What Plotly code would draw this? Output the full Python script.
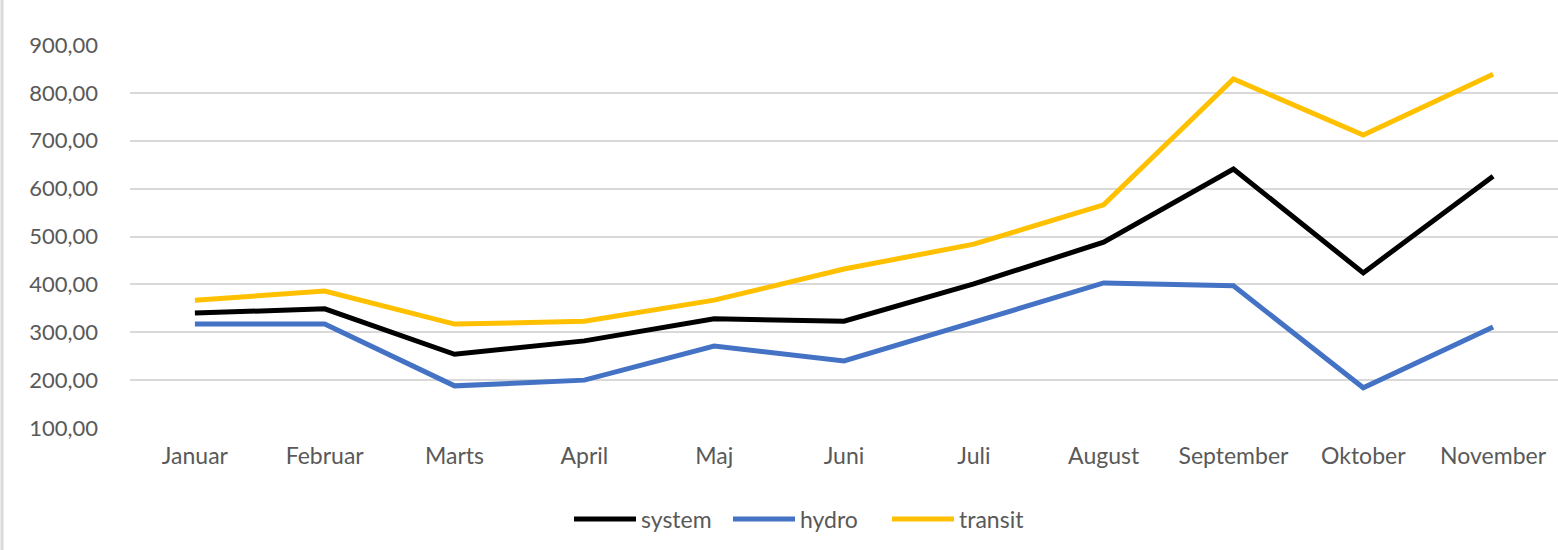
import plotly.graph_objects as go

months = ["Januar", "Februar", "Marts", "April", "Maj", "Juni", "Juli",
          "August", "September", "Oktober", "November"]
system = [340, 349, 254, 282, 328, 323, 401, 488, 641, 424, 626]
hydro = [317, 317, 188, 200, 271, 240, 321, 403, 397, 184, 311]
transit = [367, 386, 317, 323, 367, 432, 484, 566, 829, 712, 839]
yticks = [100, 200, 300, 400, 500, 600, 700, 800, 900]

W, H = 1558, 550
L, T, B = 130, 45, 122
font = "Lato"
grey = "#595959"

fig = go.Figure()
for name, vals, col in [("system", system, "#000000"),
                        ("hydro", hydro, "#4472C4"),
                        ("transit", transit, "#FFC000")]:
    fig.add_trace(go.Scatter(x=months, y=vals, name=name, mode="lines",
                             line=dict(color=col, width=5)))

plot_h = H - T - B
fig.update_layout(
    width=W, height=H,
    margin=dict(l=0, r=0, t=T, b=B, autoexpand=False),
    paper_bgcolor="white", plot_bgcolor="white",
    separators=",.",
    font=dict(family=font, size=22, color=grey),
    showlegend=True,
    legend=dict(orientation="h", x=569 / W, xanchor="left", y=-(519 - 428) / plot_h,
                yanchor="middle", font=dict(size=23, color=grey),
                traceorder="normal", itemwidth=62, entrywidth=82,
                entrywidthmode="pixels"),
    xaxis=dict(domain=[L / W, 1], range=[-0.5, len(months) - 0.5],
               showgrid=False, showline=False, ticks="",
               tickfont=dict(size=23, color=grey), zeroline=False,
               ticklabelstandoff=12),
    yaxis=dict(range=[100, 900], tickvals=yticks, tickformat=".2f",
               showgrid=True, gridcolor="#D9D9D9", gridwidth=2,
               zeroline=False, showline=False, ticks="",
               tickfont=dict(size=22, color=grey), ticklabelstandoff=31),
    shapes=[dict(type="line", xref="paper", yref="paper",
                 x0=2 / W, x1=2 / W, y0=-B / plot_h, y1=1 + T / plot_h,
                 line=dict(color="#D9D9D9", width=3))],
)
fig.write_html("out.html", config={"displayModeBar": False},
               post_script="document.body.style.margin='0';")
